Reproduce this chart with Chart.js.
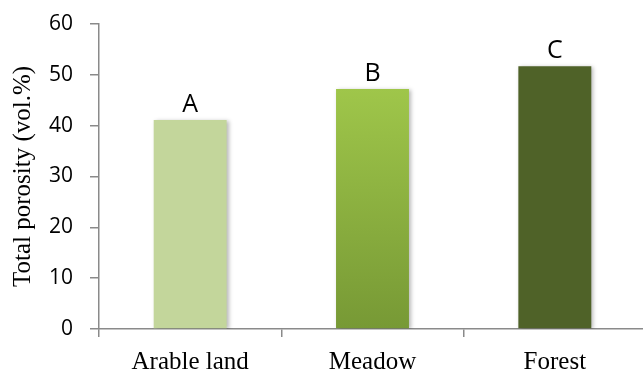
<!DOCTYPE html>
<html>
<head>
<meta charset="utf-8">
<script src="https://cdn.jsdelivr.net/npm/chart.js@4.4.1/dist/chart.umd.min.js"></script>
<style>
    html, body { margin: 0; padding: 0; background: #fff; overflow: hidden; }
    #wrap { width: 646px; height: 371px; }
</style>
</head>
<body>
<div id="wrap"><canvas id="chart"></canvas></div>
<script>
// dados
const categorias = ['Arable land', 'Meadow', 'Forest'];
const porosidade = [41.1, 47.2, 51.7];
const letras = ['A', 'B', 'C'];
const yTicks = [0, 10, 20, 30, 40, 50, 60];

const corEixo = '#8a8a8a';

// cor de cada barra (a do meio tem degradê)
function corBarra(context) {
    const chart = context.chart;
    const area = chart.chartArea;
    const i = context.dataIndex;
    if (i === 0) return '#c3d69b';
    if (i === 2) return '#4f6228';
    const escala = chart.scales.y;
    if (!area || !escala) return '#8cb240';
    const topo = escala.getPixelForValue(porosidade[i]);
    if (!isFinite(topo) || !isFinite(area.bottom)) return '#8cb240';
    const g = chart.ctx.createLinearGradient(0, topo, 0, area.bottom);
    g.addColorStop(0, '#9fc64a');
    g.addColorStop(1, '#779935');
    return g;
}

// sombra leve nas barras
const sombra = {
    id: 'sombra',
    beforeDatasetsDraw(chart) {
        const ctx = chart.ctx;
        ctx.save();
        ctx.shadowColor = 'rgba(0,0,0,0.28)';
        ctx.shadowBlur = 4;
        ctx.shadowOffsetX = 2;
        ctx.shadowOffsetY = 1;
    },
    afterDatasetsDraw(chart) {
        chart.ctx.restore();
    }
};

// letras acima das barras
const rotulos = {
    id: 'rotulos',
    afterDatasetsDraw(chart) {
        const ctx = chart.ctx;
        const barras = chart.getDatasetMeta(0).data;
        ctx.save();
        ctx.font = '25px "Open Sans"';
        ctx.fillStyle = '#000';
        ctx.textAlign = 'center';
        ctx.textBaseline = 'alphabetic';
        barras.forEach((b, i) => {
            ctx.fillText(letras[i], b.x, b.y - 8);
        });
        ctx.restore();
    }
};

new Chart(document.getElementById('chart'), {
    type: 'bar',
    data: {
        labels: categorias,
        datasets: [{
            data: porosidade,
            backgroundColor: corBarra,
            borderWidth: 0,
            barPercentage: 0.4,
            categoryPercentage: 1.0
        }]
    },
    options: {
        responsive: true,
        maintainAspectRatio: false,
        animation: false,
        layout: { padding: { top: 24, right: 0, left: 0, bottom: 0 } },
        plugins: {
            legend: { display: false },
            tooltip: { enabled: false }
        },
        scales: {
            y: {
                min: 0,
                max: 60,
                afterBuildTicks: (axis) => {
                    axis.ticks = yTicks.map(v => ({ value: v }));
                },
                afterFit: (axis) => {
                    axis.width = 99;
                    axis.paddingTop = 0;
                    axis.paddingBottom = 0;
                },
                border: { color: corEixo, width: 1.5 },
                grid: {
                    drawOnChartArea: false,
                    drawTicks: true,
                    tickLength: 9,
                    lineWidth: 1.5,
                    color: corEixo
                },
                ticks: {
                    color: '#000',
                    padding: 17,
                    font: { family: '"Open Sans"', size: 21 }
                },
                title: {
                    display: true,
                    text: 'Total porosity (vol.%)',
                    color: '#000',
                    padding: { top: 8, bottom: 0 },
                    font: { family: '"Liberation Serif"', size: 25 }
                }
            },
            x: {
                afterFit: (axis) => { axis.height = 42; },
                border: { color: corEixo, width: 1.5 },
                grid: {
                    offset: true,
                    drawOnChartArea: false,
                    drawTicks: true,
                    tickLength: 8,
                    lineWidth: 1.5,
                    color: corEixo
                },
                ticks: {
                    color: '#000',
                    padding: 10,
                    font: { family: '"Liberation Serif"', size: 25 }
                }
            }
        }
    },
    plugins: [sombra, rotulos]
});
</script>
</body>
</html>
